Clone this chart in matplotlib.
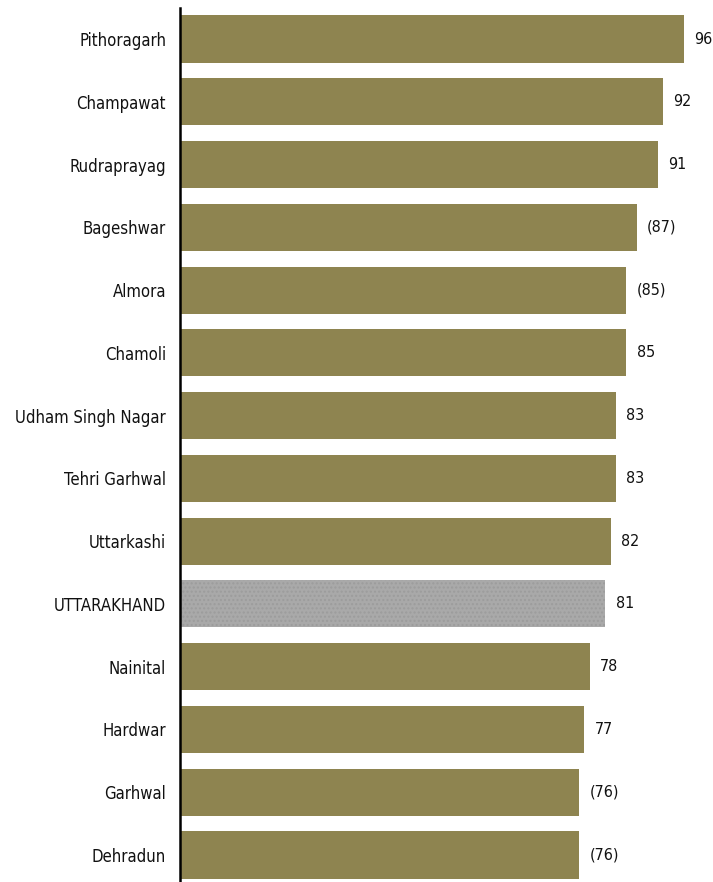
import matplotlib.pyplot as plt

districts = ["Pithoragarh", "Champawat", "Rudraprayag", "Bageshwar", "Almora", "Chamoli",
             "Udham Singh Nagar", "Tehri Garhwal", "Uttarkashi", "UTTARAKHAND", "Nainital",
             "Hardwar", "Garhwal", "Dehradun"]
values = [96, 92, 91, 87, 85, 85, 83, 83, 82, 81, 78, 77, 76, 76]
value_labels = ["96", "92", "91", "(87)", "(85)", "85", "83", "83", "82", "81", "78", "77", "(76)", "(76)"]

plt.rcParams['font.family'] = ['DejaVu Sans']
plt.rcParams['font.stretch'] = 'condensed'

fig = plt.figure(figsize=(7.13, 8.82), dpi=100)
ax = fig.add_axes([180 / 713, 0, 533 / 713, 1 - 8 / 882])

olive = "#8E8450"
grey = "#A9A9A9"
for i, (name, v) in enumerate(zip(districts, values)):
    if name == "UTTARAKHAND":
        ax.barh(i, v, height=0.75, color=grey, hatch="....", edgecolor="#9C9C9C", linewidth=0)
    else:
        ax.barh(i, v, height=0.75, color=olive)
    ax.text(v + 2.0, i, value_labels[i], va="center", ha="left", fontsize=11.5,
            stretch="condensed", color="#111111")

ax.set_yticks(range(len(districts)))
ax.set_yticklabels(districts, fontsize=12, stretch="condensed", color="#111111")
ax.tick_params(axis="y", length=0, pad=10)
ax.set_xticks([])
ax.set_xlim(0, 533 / 5.25)
ax.set_ylim(13.43, -0.494)
for s in ["top", "right", "bottom"]:
    ax.spines[s].set_visible(False)
ax.spines["left"].set_linewidth(1.8)
ax.spines["left"].set_color("black")

fig.savefig("out.png", dpi=100)
